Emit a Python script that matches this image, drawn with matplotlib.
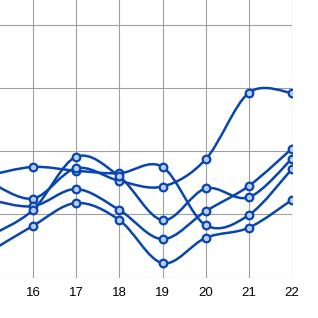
import numpy as np
import matplotlib
matplotlib.use("Agg")
import matplotlib.pyplot as plt
from matplotlib.path import Path
from matplotlib.patches import PathPatch

# x positions (15 lies just left of the visible area)
days = [15, 16, 17, 18, 19, 20, 21, 22]
tick_labels = ["16", "17", "18", "19", "20", "21", "22"]

series_top = [16.2, 17.5, 16.9, 16.5, 17.5, 8.3, 9.9, 17.2]
series_jump = [15.1, 12.5, 17.3, 15.3, 14.4, 18.7, 29.2, 29.2]
series_mid = [12.3, 11.3, 14.0, 10.7, 6.1, 10.5, 14.5, 20.4]
series_peak = [6.6, 10.7, 19.1, 16.0, 9.1, 14.1, 12.7, 18.8]
series_low = [4.1, 8.2, 11.8, 9.1, 2.3, 6.3, 7.9, 12.3]

line_col = "#0846ad"


def smooth_path(xs, ys):
    # catmull-rom curve drawn as cubic bezier segments
    pts = np.column_stack([xs, ys]).astype(float)
    n = len(pts)
    verts = [pts[0]]
    codes = [Path.MOVETO]
    for i in range(n - 1):
        p0 = pts[max(i - 1, 0)]
        p1 = pts[i]
        p2 = pts[i + 1]
        p3 = pts[min(i + 2, n - 1)]
        verts += [p1 + (p2 - p0) / 6, p2 - (p3 - p1) / 6, p2]
        codes += [Path.CURVE4] * 3
    return Path(verts, codes)


fig = plt.figure(figsize=(3.18, 3.18), dpi=100)
W = 318.0
# 16 at px 33, 22 at px 292 ; y=0 at px 277.7, 6.33 px per unit
px_per_x = (292 - 33) / 6.0
left_px = 33 - px_per_x
ax = fig.add_axes([left_px / W, (318 - 277.7) / W, (292 - left_px) / W, 50 * 6.33 / W])
ax.set_xlim(15, 22)
ax.set_ylim(0, 50)

for ys in [series_top, series_jump, series_mid, series_peak, series_low]:
    ax.add_patch(PathPatch(smooth_path(days, ys), fill=False, edgecolor=line_col,
                           lw=1.8, zorder=3, capstyle="round"))
    ax.plot(days, ys, linestyle="none", marker="o", ms=5.5, mfc="#b9cdf5",
            mec=line_col, mew=1.6, zorder=4)

ax.set_xticks(days[1:])
ax.set_xticklabels(tick_labels, fontfamily="Liberation Sans", fontsize=9.5)
ax.set_yticks([0, 10, 20, 30, 40])
ax.set_yticklabels([])
ax.tick_params(length=0, pad=6.5)
ax.grid(True, color="#a0a0a0", lw=0.8)
ax.set_axisbelow(True)
for s in ax.spines.values():
    s.set_visible(False)

fig.savefig("out.png", dpi=100)
